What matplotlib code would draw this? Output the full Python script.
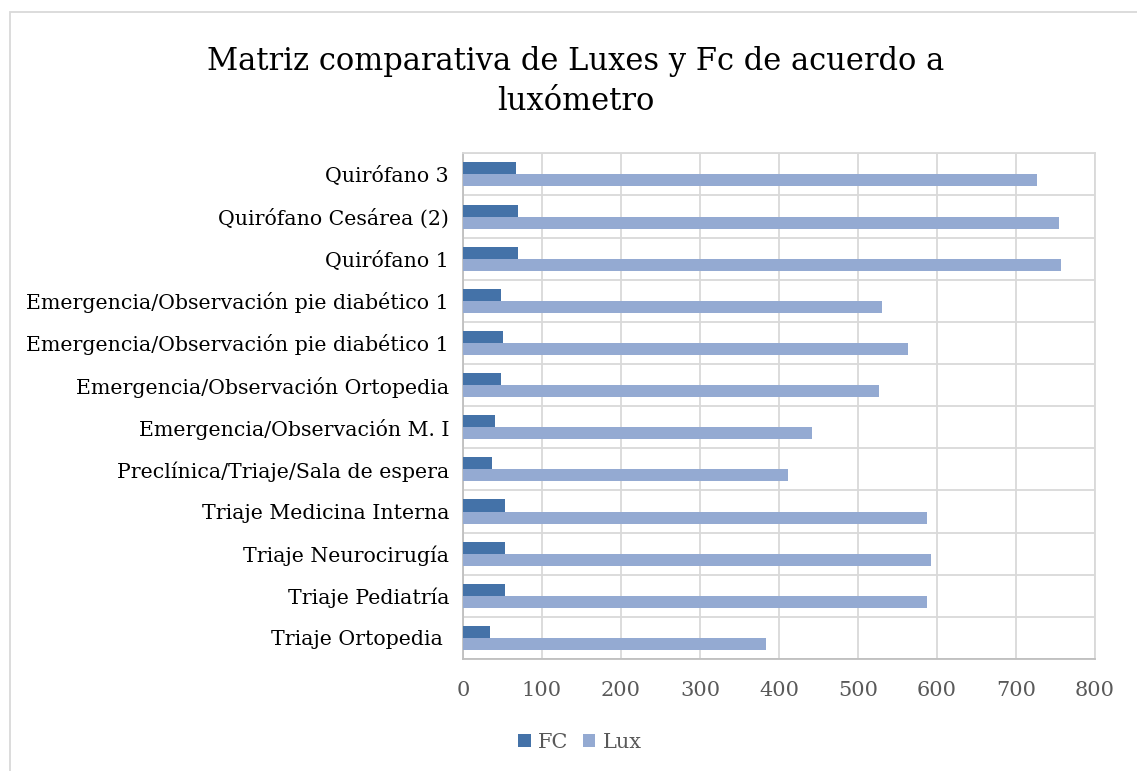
import matplotlib
matplotlib.use("Agg")
import matplotlib.pyplot as plt
import numpy as np
from matplotlib.patches import Rectangle

plt.rcParams['font.family'] = ['DejaVu Serif']

# areas, listed bottom to top as they appear on the axis
areas = [
    "Triaje Ortopedia ",
    "Triaje Pediatría",
    "Triaje Neurocirugía",
    "Triaje Medicina Interna",
    "Preclínica/Triaje/Sala de espera",
    "Emergencia/Observación M. I",
    "Emergencia/Observación Ortopedia",
    "Emergencia/Observación pie diabético 1",
    "Emergencia/Observación pie diabético 1",
    "Quirófano 1",
    "Quirófano Cesárea (2)",
    "Quirófano 3",
]
fc = [34, 53, 53, 53, 37, 40, 48, 51, 48, 70, 70, 67]
lux = [383, 587, 592, 587, 411, 442, 526, 563, 530, 757, 755, 727]
xticks = [0, 100, 200, 300, 400, 500, 600, 700, 800]

c_fc = "#4472a8"
c_lux = "#94aad2"
grid_c = "#d9d9d9"
txt_gray = "#595959"

fig = plt.figure(figsize=(11.37, 7.71), dpi=100)
ax = fig.add_axes([0.4072, 0.1453, 0.5559, 0.6558])

y = np.arange(len(areas))
h = 0.286
ax.barh(y + h / 2, fc, height=h, color=c_fc, label="FC", zorder=3)
ax.barh(y - h / 2, lux, height=h, color=c_lux, label="Lux", zorder=3)

ax.set_xlim(0, 800)
ax.set_ylim(-0.5, len(areas) - 0.5)
ax.set_xticks(xticks)
ax.set_xticklabels([str(t) for t in xticks], fontsize=15, color=txt_gray)
ax.set_yticks(y)
ax.set_yticklabels(areas, fontsize=14.8, color="#000000")
ax.set_yticks(np.arange(-0.5, len(areas), 1), minor=True)
ax.tick_params(axis="both", which="both", length=0)
ax.tick_params(axis="x", pad=16)
ax.tick_params(axis="y", pad=10)

ax.grid(axis="x", color=grid_c, linewidth=1.3, zorder=0)
ax.grid(axis="y", which="minor", color=grid_c, linewidth=1.3, zorder=0)
for s in ["top", "right"]:
    ax.spines[s].set_color(grid_c)
    ax.spines[s].set_linewidth(1.3)
for s in ["left", "bottom"]:
    ax.spines[s].set_color("#bfbfbf")
    ax.spines[s].set_linewidth(1.3)

fig.text(0.506, 0.920, "Matriz comparativa de Luxes y Fc de acuerdo a",
         ha="center", va="center", fontsize=22, color="#000000")
fig.text(0.506, 0.868, "luxómetro",
         ha="center", va="center", fontsize=22, color="#000000")

leg = fig.legend(loc="center", bbox_to_anchor=(0.51, 0.0376), ncol=2,
                 frameon=False, fontsize=15, handlelength=0.6, handleheight=0.6,
                 handletextpad=0.35, columnspacing=0.7)
for t in leg.get_texts():
    t.set_color(txt_gray)

# chart frame
fig.patches.append(Rectangle((10 / 1137, -0.1), 1.2, 1 - 12 / 771 + 0.1,
                             transform=fig.transFigure, fill=False,
                             edgecolor=grid_c, linewidth=1.3))

fig.savefig("out.png", dpi=100)
